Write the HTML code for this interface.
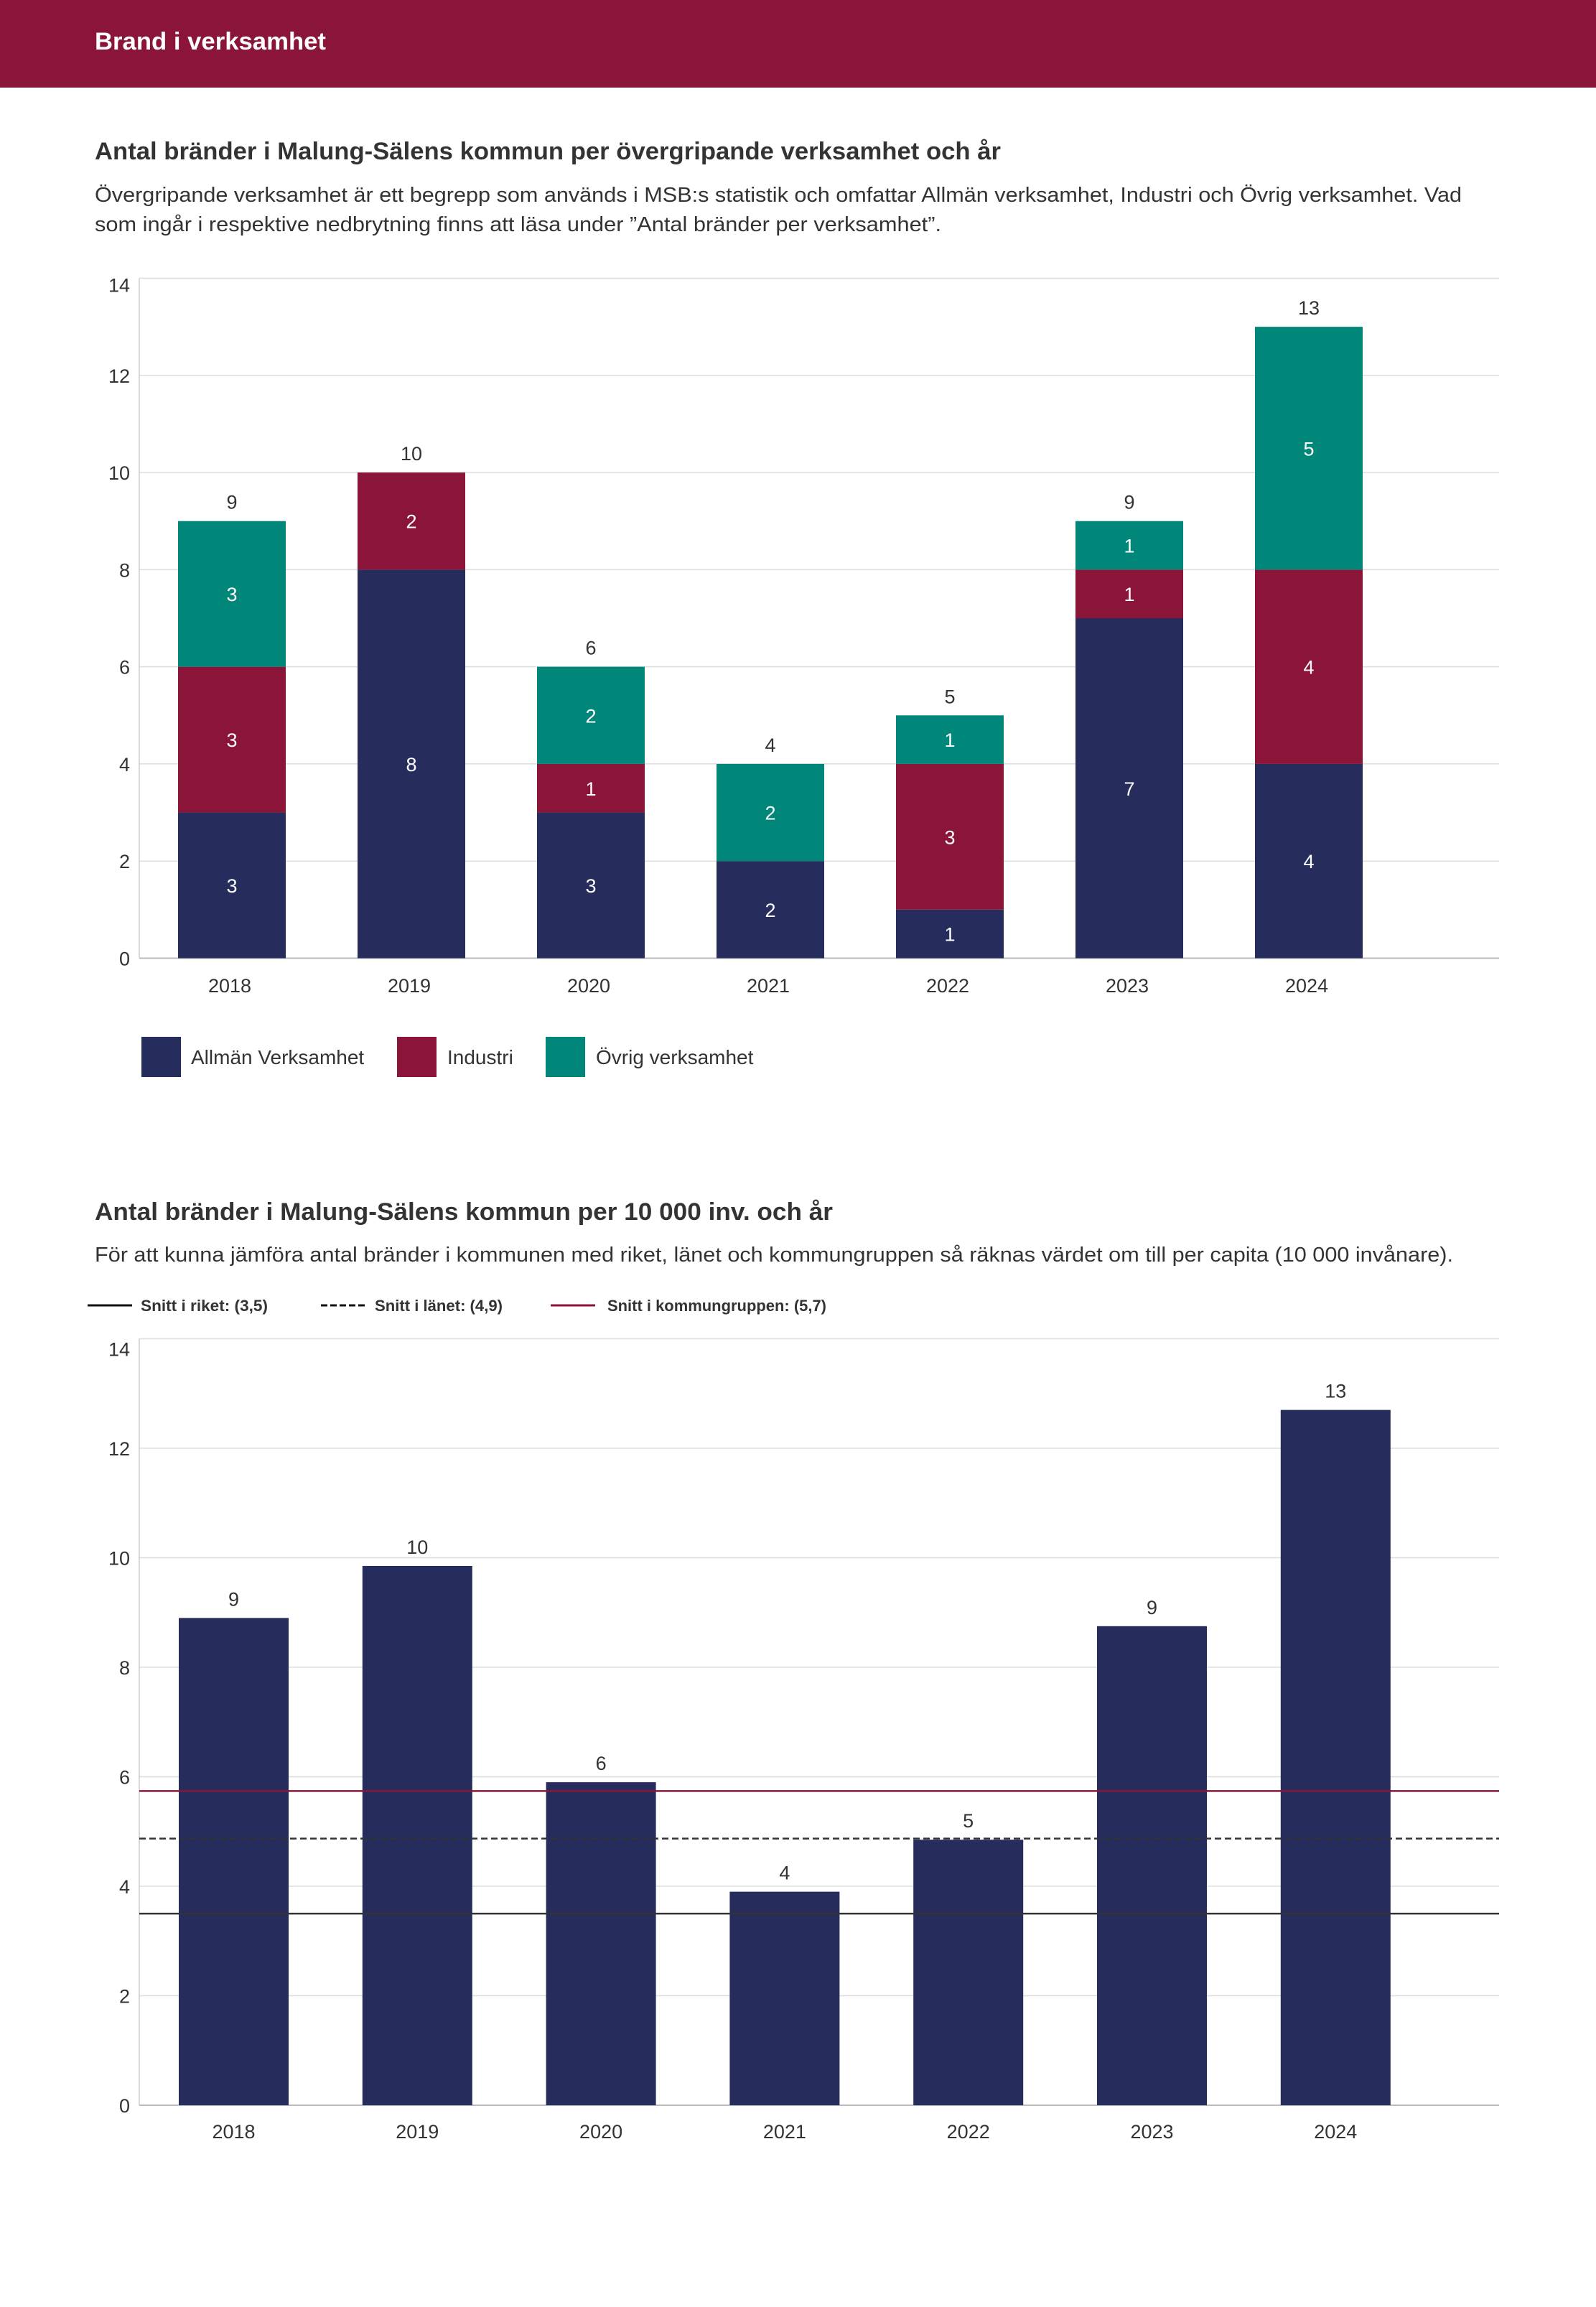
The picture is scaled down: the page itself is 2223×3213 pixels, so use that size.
<!DOCTYPE html>
<html><head><meta charset="utf-8"><style>
html,body{margin:0;padding:0;background:#fff;}
svg{display:block;font-family:"Liberation Sans",sans-serif;}
</style></head><body>
<svg id="page" width="2223" height="3213" viewBox="0 0 2223 3213" xmlns="http://www.w3.org/2000/svg">
<rect x="0" y="0" width="2223" height="122" fill="#8b1538"/>
<text x="132" y="69" font-size="34" font-weight="bold" fill="#fff" textLength="322" lengthAdjust="spacingAndGlyphs">Brand i verksamhet</text>
<text x="132" y="222" font-size="34" font-weight="bold" fill="#333" textLength="1262" lengthAdjust="spacingAndGlyphs">Antal bränder i Malung-Sälens kommun per övergripande verksamhet och år</text>
<text x="132" y="281" font-size="29" fill="#333" textLength="1904" lengthAdjust="spacingAndGlyphs">Övergripande verksamhet är ett begrepp som används i MSB:s statistik och omfattar Allmän verksamhet, Industri och Övrig verksamhet. Vad</text>
<text x="132" y="322" font-size="29" fill="#333" textLength="1179" lengthAdjust="spacingAndGlyphs">som ingår i respektive nedbrytning finns att läsa under ”Antal bränder per verksamhet”.</text>
<g id="c1"></g>
<g>
<rect x="197" y="1444" width="55" height="56" fill="#262c5c"/>
<text x="266" y="1482" font-size="28" fill="#333">Allmän Verksamhet</text>
<rect x="553" y="1444" width="55" height="56" fill="#8b1538"/>
<text x="623" y="1482" font-size="28" fill="#333">Industri</text>
<rect x="760" y="1444" width="55" height="56" fill="#00877a"/>
<text x="830" y="1482" font-size="28" fill="#333">Övrig verksamhet</text>
</g>
<text x="132" y="1699" font-size="34" font-weight="bold" fill="#333" textLength="1028" lengthAdjust="spacingAndGlyphs">Antal bränder i Malung-Sälens kommun per 10 000 inv. och år</text>
<text x="132" y="1757" font-size="29" fill="#333" textLength="1892" lengthAdjust="spacingAndGlyphs">För att kunna jämföra antal bränder i kommunen med riket, länet och kommungruppen så räknas värdet om till per capita (10 000 invånare).</text>
<g>
<line x1="122" y1="1818" x2="184" y2="1818" stroke="#111" stroke-width="3"/>
<text x="196" y="1826" font-size="22" font-weight="bold" fill="#333" textLength="177" lengthAdjust="spacingAndGlyphs">Snitt i riket: (3,5)</text>
<line x1="447" y1="1818" x2="508" y2="1818" stroke="#111" stroke-width="3" stroke-dasharray="9,4"/>
<text x="522" y="1826" font-size="22" font-weight="bold" fill="#333" textLength="178" lengthAdjust="spacingAndGlyphs">Snitt i länet: (4,9)</text>
<line x1="767" y1="1818" x2="829" y2="1818" stroke="#8b1538" stroke-width="3"/>
<text x="846" y="1826" font-size="22" font-weight="bold" fill="#333" textLength="305" lengthAdjust="spacingAndGlyphs">Snitt i kommungruppen: (5,7)</text>
</g>
<g id="c2"></g>
</svg>
<script>
const years = ["2018","2019","2020","2021","2022","2023","2024"];
const allman = [3,8,3,2,1,7,4];
const industri = [3,2,1,0,3,1,4];
const ovrig = [3,0,2,2,1,1,5];
const yTicks = [0,2,4,6,8,10,12,14];
const perCapita = [8.9,9.85,5.9,3.9,4.85,8.75,12.7];
const perCapitaLabels = ["9","10","6","4","5","9","13"];
const refRiket = 3.5;
const refLanet = 4.87;
const refKommungrupp = 5.74;

const NS="http://www.w3.org/2000/svg";
function mk(parent,tag,attrs,txt){const e=document.createElementNS(NS,tag);for(const k in attrs)e.setAttribute(k,attrs[k]);if(txt!==undefined)e.textContent=txt;parent.appendChild(e);return e;}

// Chart 1
(function(){
const g=document.getElementById('c1');
const x0=194,x1=2088,yBase=1334.5,yTop=387.5,vmax=14;
const y=v=>yBase-(v/vmax)*(yBase-yTop);
const step=250,first=323,bw=150;
const xc=i=>first+i*step;
yTicks.forEach(t=>{
 const gl=mk(g,'line',{x1:x0,x2:x1,y1:y(t),y2:y(t),stroke:t===0?'#bbb':'#ddd','stroke-width':t===0?2:1.5});
 
 
 const tl=mk(g,'text',{x:181,y:y(t)+(t===14?19:10),'font-size':27,fill:'#333','text-anchor':'end'},String(t));
 
 
});
const ax=mk(g,'line',{x1:x0,x2:x0,y1:yTop,y2:yBase,stroke:'#ccc','stroke-width':1.5});


const series=[[allman,'#262c5c','allman'],[industri,'#8b1538','industri'],[ovrig,'#00877a','ovrig']];
years.forEach((yr,i)=>{
 let acc=0;
 series.forEach(([arr,col,nm])=>{
  const v=arr[i]; if(!v) return;
  const r=mk(g,'rect',{x:xc(i)-bw/2,y:y(acc+v),width:bw,height:y(acc)-y(acc+v),fill:col});
  
  
  const t=mk(g,'text',{x:xc(i),y:(y(acc)+y(acc+v))/2+10,'font-size':27,fill:'#fff','text-anchor':'middle'},String(v));
  
  
  acc+=v;
 });
 const tt=mk(g,'text',{x:xc(i),y:y(acc)-17,'font-size':27,fill:'#333','text-anchor':'middle'},String(acc));
 
 
 const xl=mk(g,'text',{x:xc(i)-3,y:1382,'font-size':27,fill:'#333','text-anchor':'middle'},yr);
 
 
});
})();

// Chart 2
(function(){
const g=document.getElementById('c2');
const x0=194,x1=2088,yBase=2932,vmax=14,unit=76.25;
const y=v=>yBase-v*unit;
const step=255.8,first=325.5,bw=153;
const xc=i=>first+i*step;
yTicks.forEach(t=>{
 const gl=mk(g,'line',{x1:x0,x2:x1,y1:y(t),y2:y(t),stroke:t===0?'#bbb':'#ddd','stroke-width':t===0?2:1.5});
 
 
 const tl=mk(g,'text',{x:181,y:y(t)+(t===14?24:10),'font-size':27,fill:'#333','text-anchor':'end'},String(t));
 
 
});
const ax=mk(g,'line',{x1:x0,x2:x0,y1:y(14),y2:yBase,stroke:'#ccc','stroke-width':1.5});


years.forEach((yr,i)=>{
 const v=perCapita[i];
 const r=mk(g,'rect',{x:xc(i)-bw/2,y:y(v),width:bw,height:yBase-y(v),fill:'#262c5c'});
 
 
 const t=mk(g,'text',{x:xc(i),y:y(v)-17,'font-size':27,fill:'#333','text-anchor':'middle'},perCapitaLabels[i]);
 
 
 const xl=mk(g,'text',{x:xc(i),y:2978,'font-size':27,fill:'#333','text-anchor':'middle'},yr);
 
 
});
const l1=mk(g,'line',{x1:x0,x2:x1,y1:y(refKommungrupp),y2:y(refKommungrupp),stroke:'#8b1538','stroke-width':2.5});


const l2=mk(g,'line',{x1:x0,x2:x1,y1:y(refLanet),y2:y(refLanet),stroke:'#333','stroke-width':2.5,'stroke-dasharray':'9,5'});


const l3=mk(g,'line',{x1:x0,x2:x1,y1:y(refRiket),y2:y(refRiket),stroke:'#333','stroke-width':2.5});


})();
</script>
</body></html>
